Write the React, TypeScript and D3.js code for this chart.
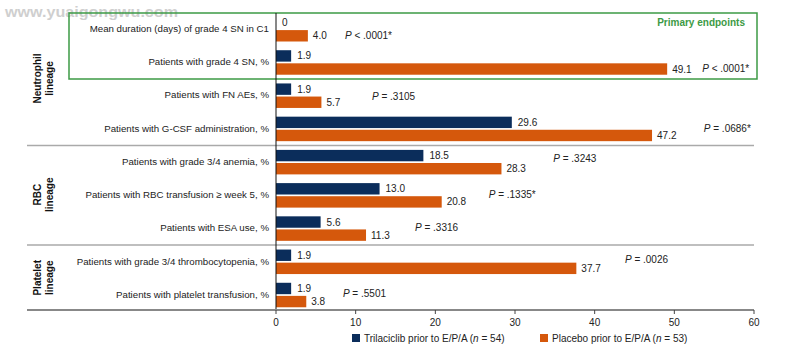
import React from "react";
import * as d3 from "d3";

const categories = [
  "Mean duration (days) of grade 4 SN in C1",
  "Patients with grade 4 SN, %",
  "Patients with FN AEs, %",
  "Patients with G-CSF administration, %",
  "Patients with grade 3/4 anemia, %",
  "Patients with RBC transfusion \u2265 week 5, %",
  "Patients with ESA use, %",
  "Patients with grade 3/4 thrombocytopenia, %",
  "Patients with platelet transfusion, %",
];
const trilaciclib = [0, 1.9, 1.9, 29.6, 18.5, 13.0, 5.6, 1.9, 1.9];
const placebo = [4.0, 49.1, 5.7, 47.2, 28.3, 20.8, 11.3, 37.7, 3.8];
const trilaciclibLabels = ["0", "1.9", "1.9", "29.6", "18.5", "13.0", "5.6", "1.9", "1.9"];
const placeboLabels = ["4.0", "49.1", "5.7", "47.2", "28.3", "20.8", "11.3", "37.7", "3.8"];
const pValues = ["< .0001*", "< .0001*", " = .3105", " = .0686*", " = .3243", " = .1335*", "= .3316", "= .0026", "= .5501"];
const groups = [
  { lines: ["Neutrophil", "lineage"], from: 0, to: 3 },
  { lines: ["RBC", "lineage"], from: 4, to: 6 },
  { lines: ["Platelet", "lineage"], from: 7, to: 8 },
];
const xTicks = [0, 10, 20, 30, 40, 50, 60];
const seriesNames = ["Trilaciclib prior to E/P/A (", "Placebo prior to E/P/A ("];
const seriesN = ["54", "53"];

// layout of the P value annotations (x in data units, vertical offset from band centre)
const pLayout = [
  { x: 8.66, dy: 7.2 },
  { x: 53.5, dy: 6.5 },
  { x: 12.05, dy: 1 },
  { x: 53.7, dy: 0 },
  { x: 34.8, dy: -3 },
  { x: 26.7, dy: 0 },
  { x: 17.45, dy: 0 },
  { x: 43.8, dy: -2 },
  { x: 8.4, dy: -1 },
];

const BLUE = "#0b2d5b";
const ORANGE = "#d5580c";
const GREEN = "#3c9a45";
const FONT = "'Liberation Sans', Arial, sans-serif";

export default function App() {
  const W = 786, H = 353;
  const x = d3.scaleLinear().domain([0, 60]).range([276, 754]);
  const y = d3.scaleBand<string>().domain(categories).range([12, 311]);
  const inner = d3.scaleBand<string>().domain(["t", "p"]).range([5, 29.5]).paddingInner(0.13);
  const bw = inner.bandwidth();
  const axisY = 310;

  return (
    <svg width={W} height={H} style={{ position: "absolute", left: 0, top: 0, background: "#fff" }} fontFamily={FONT}>
      <text x={5} y={17} fontSize={14} fontWeight="bold" fill="#cfcfcf" textLength={173} lengthAdjust="spacingAndGlyphs">www.yuaigongwu.com</text>

      {/* group separators */}
      {[3, 6].map((i) => {
        const yy = (y(categories[i])! + y.bandwidth() + y(categories[i + 1])!) / 2 + 0.5;
        return <line key={i} x1={27} x2={754} y1={yy} y2={yy} stroke="#aaaaaa" strokeWidth={1.5} />;
      })}

      {/* primary endpoints box */}
      <rect x={69} y={13} width={688} height={66} fill="none" stroke={GREEN} strokeWidth={1.5} />
      <text x={745} y={26} textAnchor="end" fontSize={10} fontWeight="bold" fill={GREEN}>Primary endpoints</text>

      {/* bars */}
      {categories.map((c, i) => {
        const b = y(c)!;
        const yt = b + inner("t")!;
        const yp = b + inner("p")!;
        return (
          <g key={c}>
            <rect x={x(0)} y={yt} width={x(trilaciclib[i]) - x(0)} height={bw} fill={BLUE} />
            <rect x={x(0)} y={yp} width={x(placebo[i]) - x(0)} height={bw} fill={ORANGE} />
            <text x={x(trilaciclib[i]) + 6} y={yt + bw / 2} dy="0.35em" fontSize={10} fill="#222">{trilaciclibLabels[i]}</text>
            <text x={x(placebo[i]) + 5} y={yp + bw / 2} dy="0.35em" fontSize={10} fill="#222">{placeboLabels[i]}</text>
            <text x={269} y={b + y.bandwidth() / 2} dy="0.35em" textAnchor="end" fontSize={9.7} fill="#222">{c}</text>
            <text x={x(pLayout[i].x)} y={b + y.bandwidth() / 2 + pLayout[i].dy} dy="0.35em" fontSize={10} fill="#222">
              <tspan fontStyle="italic">P</tspan>
              <tspan>{" " + pValues[i]}</tspan>
            </text>
          </g>
        );
      })}

      {/* group labels */}
      {groups.map((g) => {
        const cy = (y(categories[g.from])! + y(categories[g.to])! + y.bandwidth()) / 2;
        return (
          <text key={g.lines[0]} transform={`translate(0,${cy}) rotate(-90)`} textAnchor="middle" fontSize={10} fontWeight="bold" fill="#111">
            <tspan x={0} y={41}>{g.lines[0]}</tspan>
            <tspan x={0} y={53}>{g.lines[1]}</tspan>
          </text>
        );
      })}

      {/* axes */}
      <line x1={x(0)} x2={x(0)} y1={13} y2={axisY} stroke="#111" strokeWidth={1} />
      <line x1={27} x2={x(60)} y1={axisY} y2={axisY} stroke="#888" strokeWidth={2} />
      {xTicks.map((t) => (
        <g key={t}>
          <line x1={x(t)} x2={x(t)} y1={axisY} y2={axisY + 4} stroke="#444" strokeWidth={1} />
          <text x={x(t)} y={axisY + 12} dy="0.35em" textAnchor="middle" fontSize={10} fill="#222">{t}</text>
        </g>
      ))}

      {/* legend */}
      {[BLUE, ORANGE].map((col, i) => {
        const lx = i === 0 ? 352 : 540;
        return (
          <g key={i}>
            <rect x={lx} y={334} width={8} height={8} fill={col} />
            <text x={lx + 12} y={338} dy="0.35em" fontSize={10} fill="#222">
              {seriesNames[i]}
              <tspan fontStyle="italic">n</tspan>
              {" = " + seriesN[i] + ")"}
            </text>
          </g>
        );
      })}
    </svg>
  );
}
